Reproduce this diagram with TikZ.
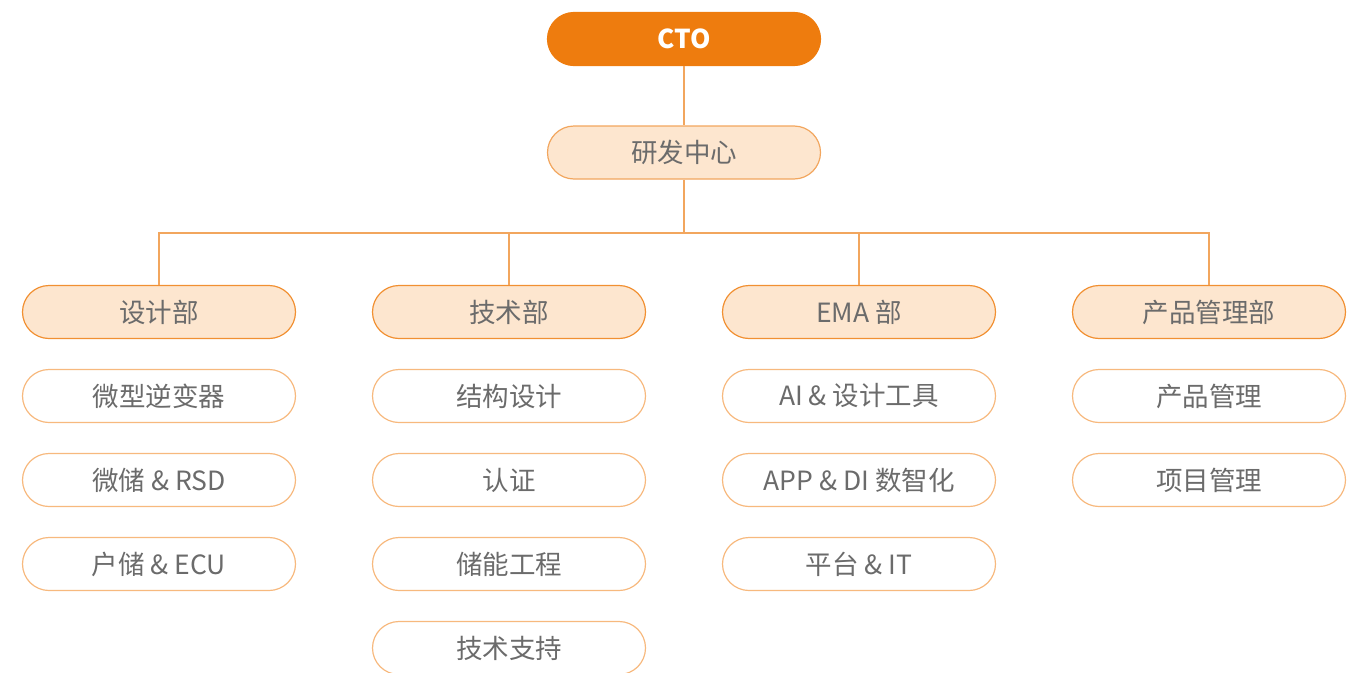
\documentclass[tikz,border=0pt]{standalone}
\usepackage{fontspec}
\setmainfont{Noto Sans CJK SC}
\newfontfamily\cjk{Noto Sans CJK SC}
\definecolor{orgmain}{HTML}{EE7C0E}
\definecolor{orgfill}{HTML}{FDE6CF}
\definecolor{orgline}{HTML}{F2A65E}
\definecolor{orglite}{HTML}{F7B97E}
\definecolor{txtgray}{HTML}{6B6B6B}
\begin{document}
\begin{tikzpicture}[x=1pt,y=-1pt,
  pill/.style={rectangle,rounded corners=26.5pt,minimum width=273pt,minimum height=53pt,inner sep=0pt,line width=1.2pt,font=\cjk\fontsize{26.5}{30}\selectfont,text=txtgray},
  topbox/.style={pill,fill=orgmain,draw=orgmain,text=white,font=\cjk\bfseries\fontsize{26}{30}\selectfont},
  midbox/.style={pill,fill=orgfill,draw=orgline},
  deptbox/.style={pill,fill=orgfill,draw=orgmain!85},
  subbox/.style={pill,fill=white,draw=orglite},
  link/.style={draw=orgline,line width=1.2pt}
]
\useasboundingbox (0,0) rectangle (1360,672);
\node[topbox] (cto) at (684,39) {CTO};
\node[midbox] (rd) at (684,152.5) {研发中心};
\node[deptbox] (d1) at (159,312) {设计部};
\node[deptbox] (d2) at (509,312) {技术部};
\node[deptbox] (d3) at (859,312) {EMA 部};
\node[deptbox] (d4) at (1209,312) {产品管理部};
\coordinate (bus) at (684,233);
\draw[link] (cto.south) -- (rd.north);
\draw[link] (rd.south) -- (bus);
\draw[link] (d1.north) |- (bus) -| (d4.north);
\draw[link] (d2.north) -- (d2.north |- bus);
\draw[link] (d3.north) -- (d3.north |- bus);
% column 1
\node[subbox] (a1) at (159,396) {微型逆变器};
\node[subbox] (a2) at (159,480) {微储 \& RSD};
\node[subbox] (a3) at (159,564) {户储 \& ECU};
% column 2
\node[subbox] (b1) at (509,396) {结构设计};
\node[subbox] (b2) at (509,480) {认证};
\node[subbox] (b3) at (509,564) {储能工程};
\node[subbox] (b4) at (509,648) {技术支持};
% column 3
\node[subbox] (c1) at (859,396) {AI \& 设计工具};
\node[subbox] (c2) at (859,480) {APP \& DI 数智化};
\node[subbox] (c3) at (859,564) {平台 \& IT};
% column 4
\node[subbox] (e1) at (1209,396) {产品管理};
\node[subbox] (e2) at (1209,480) {项目管理};
\end{tikzpicture}
\end{document}
